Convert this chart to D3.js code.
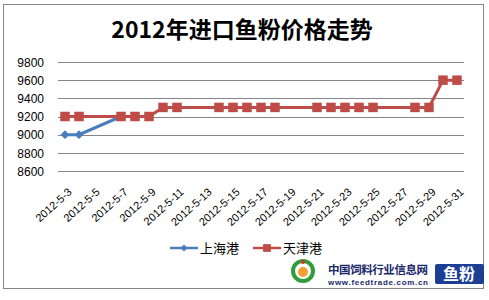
<!DOCTYPE html>
<html>
<head>
<meta charset="utf-8">
<script src="https://cdn.jsdelivr.net/npm/d3@7"></script>
<style>
  body { margin: 0; background: #fff; }
  svg { display: block; }
  .tick-label { font-family: "Liberation Sans", Arial, sans-serif; font-size: 12px; fill: #000; }
  .x-label { font-size: 11px; }
  .cjk { font-family: "Noto Sans CJK SC", sans-serif; }
</style>
</head>
<body>
<div id="chart"></div>
<script>
// trading days shown in the chart (weekends have no values)
const dates = ['2012-5-3', '2012-5-4', '2012-5-7', '2012-5-8', '2012-5-9', '2012-5-10', '2012-5-11',
  '2012-5-14', '2012-5-15', '2012-5-16', '2012-5-17', '2012-5-18',
  '2012-5-21', '2012-5-22', '2012-5-23', '2012-5-24', '2012-5-25',
  '2012-5-28', '2012-5-29', '2012-5-30', '2012-5-31'];
const shanghai = [9000, 9000, 9200, null, null, null, null, null, null, null, null, null,
  null, null, null, null, null, null, null, null, null];
const tianjin = [9200, 9200, 9200, 9200, 9200, 9300, 9300, 9300, 9300, 9300, 9300, 9300,
  9300, 9300, 9300, 9300, 9300, 9300, 9300, 9600, 9600];
const tickLabels = ['2012-5-3', '2012-5-5', '2012-5-7', '2012-5-9', '2012-5-11', '2012-5-13', '2012-5-15',
  '2012-5-17', '2012-5-19', '2012-5-21', '2012-5-23', '2012-5-25', '2012-5-27', '2012-5-29', '2012-5-31'];
const yTicks = [8600, 8800, 9000, 9200, 9400, 9600, 9800];
const seriesNames = ['上海港', '天津港'];

const width = 489, height = 300;
const margin = {top: 62, right: 25, bottom: 129, left: 58};
const parse = s => { const p = s.split('-').map(Number); return new Date(p[0], p[1] - 1, p[2]); };
const halfDay = 12 * 3600 * 1000;

const svg = d3.select('#chart').append('svg')
    .attr('width', width)
    .attr('height', height);

// outer frame
svg.append('rect')
    .attr('x', 3.5).attr('y', 4.5)
    .attr('width', 480).attr('height', 284)
    .attr('fill', '#fff')
    .attr('stroke', '#868686')
    .attr('stroke-width', 1);

// title
svg.append('text')
    .attr('class', 'cjk')
    .attr('x', 242).attr('y', 38)
    .attr('text-anchor', 'middle')
    .attr('font-size', 23)
    .attr('font-weight', 'bold')
    .text('2012年进口鱼粉价格走势');

const x = d3.scaleTime()
    .domain([new Date(parse(dates[0]).getTime() - halfDay), new Date(parse(dates[dates.length - 1]).getTime() + halfDay)])
    .range([margin.left, width - margin.right]);

const y = d3.scaleLinear()
    .domain([8600, 9800])
    .range([height - margin.bottom, margin.top]);

// gridlines
svg.append('g')
  .selectAll('line')
  .data(yTicks)
  .join('line')
    .attr('x1', margin.left)
    .attr('x2', width - margin.right)
    .attr('y1', d => Math.round(y(d)) + 0.5)
    .attr('y2', d => Math.round(y(d)) + 0.5)
    .attr('stroke', '#868686')
    .attr('stroke-width', 1);

// y axis labels
const yAxis = svg.append('g')
    .attr('transform', `translate(${margin.left},0)`)
    .call(d3.axisLeft(y).tickValues(yTicks).tickSize(0).tickPadding(14).tickFormat(d3.format('d')));
yAxis.select('.domain').remove();
yAxis.selectAll('text').attr('class', 'tick-label').attr('dy', '0.35em');

// x axis labels (rotated)
const xAxis = svg.append('g')
    .attr('transform', `translate(0,${height - margin.bottom})`)
    .call(d3.axisBottom(x).tickValues(tickLabels.map(parse)).tickSize(0)
      .tickFormat((d, i) => tickLabels[i]));
xAxis.select('.domain').remove();
xAxis.selectAll('text')
    .attr('class', 'tick-label x-label')
    .attr('text-anchor', 'end')
    .attr('dy', null)
    .attr('y', 0)
    .attr('transform', 'translate(7,22) rotate(-42)');

const line = d3.line()
    .defined(d => d.v != null)
    .x(d => x(parse(d.date)))
    .y(d => y(d.v));

const series = [
  {name: seriesNames[0], values: dates.map((d, i) => ({date: d, v: shanghai[i]})), color: '#4A7EBB', marker: 'diamond'},
  {name: seriesNames[1], values: dates.map((d, i) => ({date: d, v: tianjin[i]})), color: '#BE4B48', marker: 'square'}
];

const diamond = d3.symbol().type(d3.symbolDiamond2).size(50);
const square = d3.symbol().type(d3.symbolSquare).size(90);

series.forEach(s => {
  svg.append('path')
      .datum(s.values)
      .attr('fill', 'none')
      .attr('stroke', s.color)
      .attr('stroke-width', 3)
      .attr('d', line);
  svg.append('g')
    .selectAll('path')
    .data(s.values.filter(d => d.v != null))
    .join('path')
      .attr('transform', d => `translate(${x(parse(d.date))},${y(d.v)})`)
      .attr('d', s.marker === 'diamond' ? diamond : square)
      .attr('fill', s.color);
});

// legend
const legend = svg.append('g').attr('transform', 'translate(170,248)');
const legendItems = legend.selectAll('g')
  .data(series)
  .join('g')
    .attr('transform', (d, i) => `translate(${i * 83},0)`);
legendItems.append('line')
    .attr('x1', 0).attr('x2', 28)
    .attr('stroke', d => d.color)
    .attr('stroke-width', 2.5);
legendItems.append('path')
    .attr('transform', 'translate(14,0)')
    .attr('d', d => d.marker === 'diamond' ? d3.symbol().type(d3.symbolDiamond2).size(30)() : d3.symbol().type(d3.symbolSquare).size(60)())
    .attr('fill', d => d.color);
legendItems.append('text')
    .attr('class', 'cjk')
    .attr('x', 30).attr('y', 5)
    .attr('font-size', 13)
    .text(d => d.name);

// source logo, bottom right
const logo = svg.append('g');
logo.append('circle').attr('cx', 303).attr('cy', 271).attr('r', 10)
    .attr('fill', 'none').attr('stroke', '#2f9e3a').attr('stroke-width', 4);
logo.append('circle').attr('cx', 303).attr('cy', 272).attr('r', 5).attr('fill', '#f0a030');
logo.append('circle').attr('cx', 303).attr('cy', 262).attr('r', 2).attr('fill', '#e03020');
logo.append('text').attr('class', 'cjk')
    .attr('x', 328).attr('y', 274)
    .attr('font-size', 11.5).attr('font-weight', 'bold').attr('fill', '#1a2a6a')
    .attr('textLength', 100)
    .text('中国饲料行业信息网');
logo.append('text')
    .attr('x', 328).attr('y', 285)
    .attr('font-family', 'Liberation Sans, Arial, sans-serif')
    .attr('font-size', 8).attr('font-weight', 'bold').attr('fill', '#1a2a6a')
    .attr('textLength', 100)
    .text('www.feedtrade.com.cn');
logo.append('rect').attr('x', 435).attr('y', 264).attr('width', 49).attr('height', 20)
    .attr('rx', 2).attr('fill', '#1c3f94');
logo.append('text').attr('class', 'cjk')
    .attr('x', 459).attr('y', 280)
    .attr('text-anchor', 'middle')
    .attr('font-size', 16).attr('font-weight', 'bold').attr('fill', '#fff')
    .text('鱼粉');
</script>
</body>
</html>
